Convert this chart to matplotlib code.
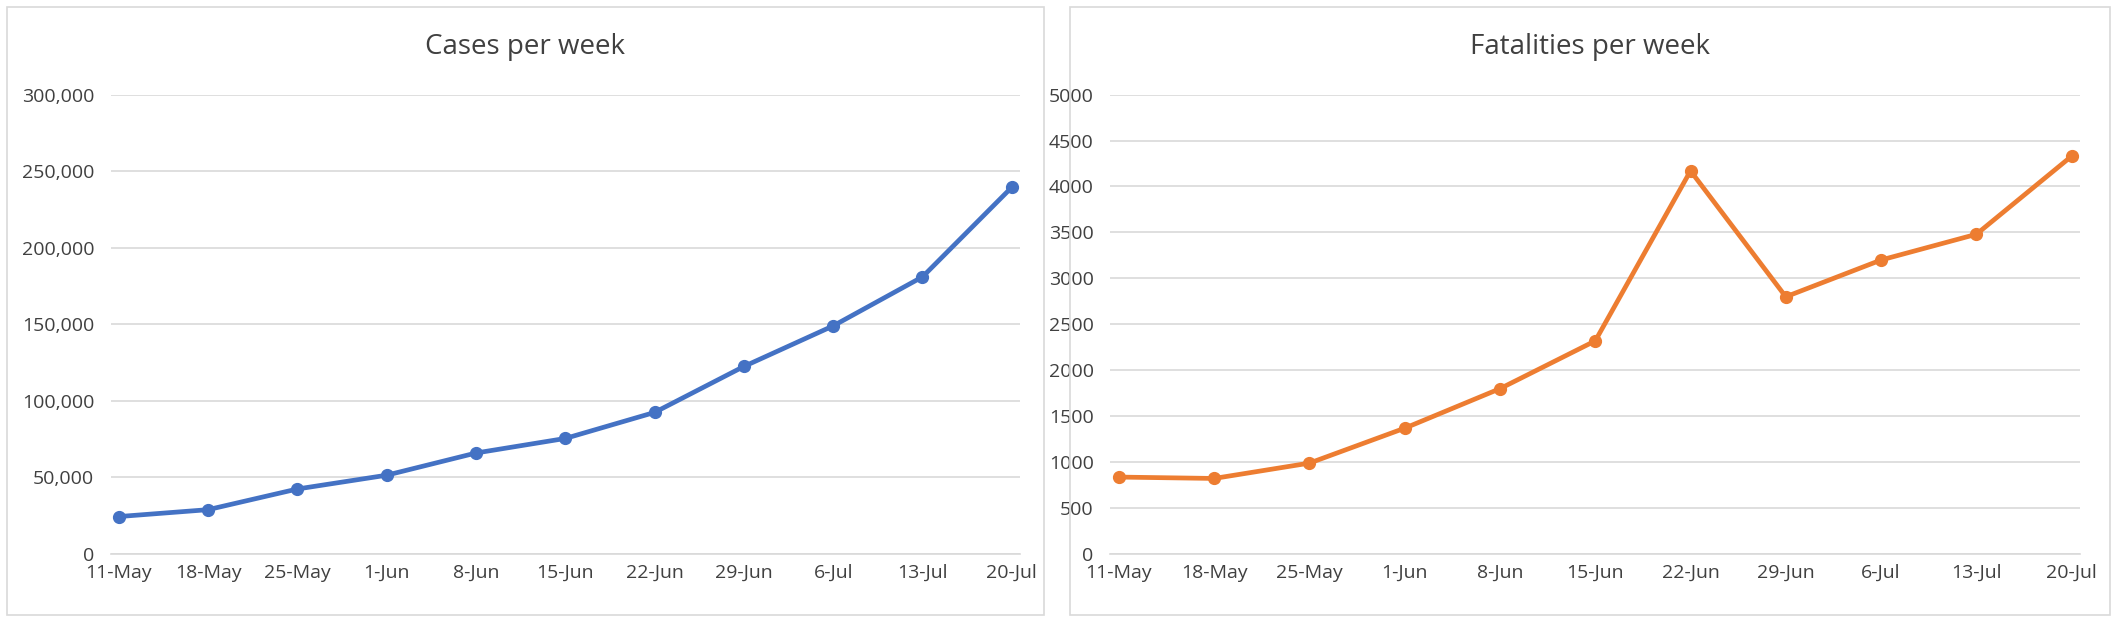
import matplotlib
matplotlib.use("Agg")
import matplotlib.pyplot as plt
from matplotlib.patches import Rectangle
from matplotlib.ticker import FuncFormatter

weeks = ["11-May","18-May","25-May","1-Jun","8-Jun","15-Jun","22-Jun","29-Jun","6-Jul","13-Jul","20-Jul"]
cases = [24500, 29000, 42500, 51500, 66000, 75500, 92500, 122500, 149000, 181000, 239500]
fatalities = [838, 823, 990, 1370, 1800, 2320, 4170, 2800, 3200, 3480, 4330]

plt.rcParams['font.family'] = ['Open Sans', 'DejaVu Sans']
W, H = 1568, 461
fig = plt.figure(figsize=(21.18, 6.23), dpi=100)

def panel(bx0, bx1, ax0, ax1, data, color, ymax, ystep, fmt, title):
    fig.patches.append(Rectangle((bx0/W, 1-455/H), (bx1-bx0)/W, 450/H, transform=fig.transFigure,
                                 fill=False, edgecolor='#D9D9D9', lw=1.2))
    ax = fig.add_axes([ax0/W, 1-410/H, (ax1-ax0)/W, 340/H])
    x = list(range(len(weeks)))
    ax.plot(x, data, color=color, lw=3.4, marker='o', ms=8.5, zorder=3, clip_on=False)
    ax.set_xlim(-0.09, len(weeks)-1+0.09)
    ax.set_ylim(0, ymax)
    ax.set_yticks(range(0, ymax+1, ystep))
    ax.yaxis.set_major_formatter(FuncFormatter(fmt))
    ax.set_xticks(x)
    ax.set_xticklabels(weeks)
    ax.grid(axis='y', color='#D9D9D9', lw=1.2)
    ax.set_axisbelow(True)
    for s in ['top', 'right', 'left']:
        ax.spines[s].set_visible(False)
    ax.spines['bottom'].set_color('#D9D9D9')
    ax.spines['bottom'].set_linewidth(1.2)
    ax.tick_params(length=0, labelsize=14, colors='#404040', pad=7)
    ax.tick_params(axis='y', pad=12)
    fig.text((bx0+bx1)/2/W, 1-35/H, title, ha='center', va='center', fontsize=20, color='#404040')

panel(5, 773, 82, 755, cases, '#4472C4', 300000, 50000, lambda v, p: f"{int(v):,}", "Cases per week")
panel(792, 1562, 822, 1540, fatalities, '#ED7D31', 5000, 500, lambda v, p: f"{int(v)}", "Fatalities per week")

fig.savefig("out.png", dpi=100)
